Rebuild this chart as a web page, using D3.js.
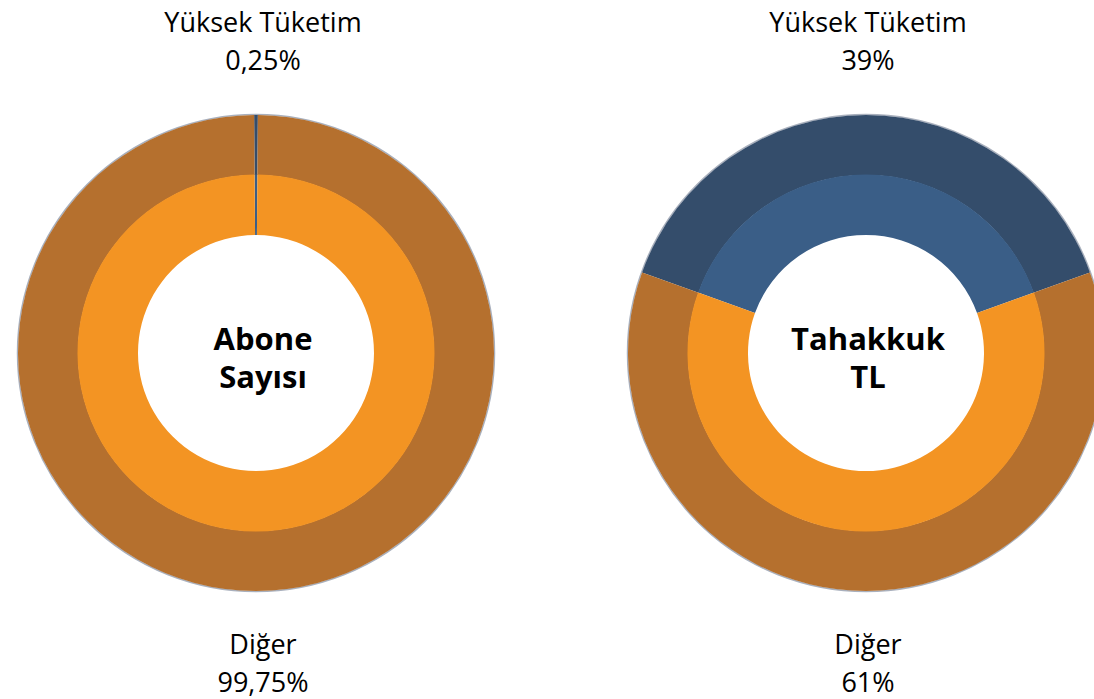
<!DOCTYPE html>
<html>
<head>
<meta charset="utf-8">
<script src="https://cdn.jsdelivr.net/npm/d3@7"></script>
<style>
  body { margin: 0; background: #fff; }
  svg { display: block; }
  text { font-family: "Open Sans", Lato, sans-serif; fill: #000; }
</style>
</head>
<body>
<svg width="1094" height="699"></svg>
<script>
// chart data
const categories = ["Yüksek Tüketim", "Diğer"];
const charts = ["Abone Sayısı", "Tahakkuk TL"];
const aboneValues = [0.25, 99.75];
const tahakkukValues = [39, 61];
const aboneLabels = ["0,25%", "99,75%"];
const tahakkukLabels = ["39%", "61%"];

const svg = d3.select("svg");

const outerColor = d3.scaleOrdinal().domain(categories).range(["#344d6b", "#b5702e"]);
const innerColor = d3.scaleOrdinal().domain(categories).range(["#3a5e87", "#f39423"]);

function drawDonut(cx, labelX, values, labels, title) {
    const total = d3.sum(values);
    const half = (values[0] / total) * Math.PI; // first slice centered at top
    const pie = d3.pie().sort(null).value(d => d.v)
        .startAngle(-half).endAngle(2 * Math.PI - half);
    const arcs = pie(categories.map((c, i) => ({ c, v: values[i] })));

    const g = svg.append("g").attr("transform", `translate(${cx},353)`);

    // thin gray rim
    g.append("circle").attr("r", 238.5).attr("fill", "none")
        .attr("stroke", "#a9b0bd").attr("stroke-width", 1.5);

    const outer = d3.arc().innerRadius(178).outerRadius(238);
    const inner = d3.arc().innerRadius(118).outerRadius(178.5);

    g.selectAll(".outer").data(arcs).join("path")
        .attr("d", outer).attr("fill", d => outerColor(d.data.c));
    g.selectAll(".inner").data(arcs).join("path")
        .attr("d", inner).attr("fill", d => innerColor(d.data.c));

    // center title
    const words = title.split(" ");
    g.selectAll(".title").data(words).join("text")
        .attr("x", labelX - cx)
        .attr("y", (d, i) => -3 + i * 38)
        .attr("text-anchor", "middle")
        .style("font-size", "31px").style("font-weight", "bold")
        .text(d => d);

    // top / bottom labels
    const top = svg.append("text").attr("text-anchor", "middle").style("font-size", "27px");
    top.append("tspan").attr("x", labelX).attr("y", 32).text(categories[0]);
    top.append("tspan").attr("x", labelX).attr("y", 70).text(labels[0]);

    const bot = svg.append("text").attr("text-anchor", "middle").style("font-size", "27px");
    bot.append("tspan").attr("x", labelX).attr("y", 654).text(categories[1]);
    bot.append("tspan").attr("x", labelX).attr("y", 692).text(labels[1]);
}

drawDonut(256, 263, aboneValues, aboneLabels, charts[0]);
drawDonut(866, 868, tahakkukValues, tahakkukLabels, charts[1]);
</script>
</body>
</html>
